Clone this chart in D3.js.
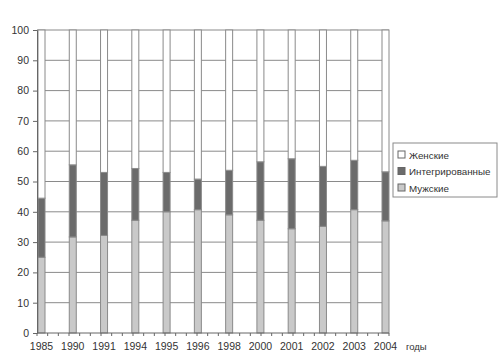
<!DOCTYPE html>
<html>
<head>
<meta charset="utf-8">
<script src="https://cdn.jsdelivr.net/npm/d3@7"></script>
<style>
  body { margin: 0; background: #fff; }
  text { font-family: "Liberation Sans", Arial, sans-serif; fill: #333; }
</style>
</head>
<body>
<script>
var years = ["1985", "1990", "1991", "1994", "1995", "1996", "1998", "2000", "2001", "2002", "2003", "2004"];
var male = [25, 31.7, 32.2, 37.2, 40, 40.7, 39, 37.2, 34.4, 35.2, 40.7, 37];
var integrated = [19.5, 23.8, 20.8, 17.1, 13, 10.1, 14.7, 19.3, 23.1, 19.8, 16.3, 16.2];
var female = years.map(function (d, i) { return 100 - male[i] - integrated[i]; });
var yTicks = [0, 10, 20, 30, 40, 50, 60, 70, 80, 90, 100];
var legendNames = ["Женские", "Интегрированные", "Мужские"];

var colors = { female: "#ffffff", integrated: "#6b6b6b", male: "#c9c9c9" };

var svg = d3.select("body").append("svg").attr("width", 500).attr("height", 363);

var mLeft = 37, mRight = 389, mTop = 30, mBottom = 333;

var x = d3.scalePoint().domain(years).range([41.5, 385.5]);
var y = d3.scaleLinear().domain([0, 100]).range([mBottom, mTop]);

// horizontal gridlines
svg.append("g").selectAll("line")
    .data(yTicks.filter(function (d) { return d > 0; }))
    .enter().append("line")
    .attr("x1", mLeft).attr("x2", mRight)
    .attr("y1", function (d) { return y(d); })
    .attr("y2", function (d) { return y(d); })
    .attr("stroke", "#8a8a8a").attr("stroke-width", 1);

// stacked bars
var rows = years.map(function (d, i) {
    return { year: d, male: male[i], integrated: integrated[i], female: female[i] };
});
var stack = d3.stack().keys(["male", "integrated", "female"]);
var series = stack(rows);
var bw = 7;

svg.append("g").selectAll("g")
    .data(series)
    .enter().append("g")
    .attr("fill", function (d) { return colors[d.key]; })
    .selectAll("rect")
    .data(function (d) { return d; })
    .enter().append("rect")
    .attr("x", function (d) { return x(d.data.year) - bw / 2; })
    .attr("y", function (d) { return y(d[1]); })
    .attr("width", bw)
    .attr("height", function (d) { return y(d[0]) - y(d[1]); })
    .attr("stroke", "#8a8a8a").attr("stroke-width", 1);

// y axis
var yAxis = d3.axisLeft(y).tickValues(yTicks).tickSize(4).tickPadding(4);
var gy = svg.append("g").attr("transform", "translate(" + mLeft + ",0)").call(yAxis);
gy.select(".domain").attr("stroke", "#666");
gy.selectAll(".tick line").attr("stroke", "#666");
gy.selectAll("text").style("font-size", "10.5px").attr("fill", "#333");

// x axis
var gx = svg.append("g").attr("transform", "translate(0," + mBottom + ")");
gx.append("line").attr("x1", mLeft).attr("x2", mRight).attr("stroke", "#666");
var minor = d3.range(0, 34).map(function (k) { return mLeft + k * (mRight - mLeft) / 33; });
gx.selectAll(".minor").data(minor).enter().append("line")
    .attr("x1", function (d) { return d; }).attr("x2", function (d) { return d; })
    .attr("y1", 0).attr("y2", 3).attr("stroke", "#666");
gx.selectAll(".lbl").data(years).enter().append("text")
    .attr("x", function (d) { return x(d); })
    .attr("y", 17)
    .attr("text-anchor", "middle")
    .style("font-size", "10.5px")
    .text(function (d) { return d; });
gx.append("text").attr("x", 406).attr("y", 17).style("font-size", "9.5px").text("годы");

// legend
var lg = svg.append("g").attr("transform", "translate(393,143)");
lg.append("rect").attr("width", 104).attr("height", 54)
    .attr("fill", "#fff").attr("stroke", "#8a8a8a");
var legendColors = [colors.female, colors.integrated, colors.male];
lg.selectAll(".item").data(legendNames).enter().append("g")
    .attr("transform", function (d, i) { return "translate(5," + (8 + i * 16.5) + ")"; })
    .each(function (d, i) {
        var g = d3.select(this);
        g.append("rect").attr("width", 7).attr("height", 7)
            .attr("fill", legendColors[i]).attr("stroke", "#666");
        g.append("text").attr("x", 11).attr("y", 7.5).style("font-size", "9.8px").text(d);
    });
</script>
</body>
</html>
